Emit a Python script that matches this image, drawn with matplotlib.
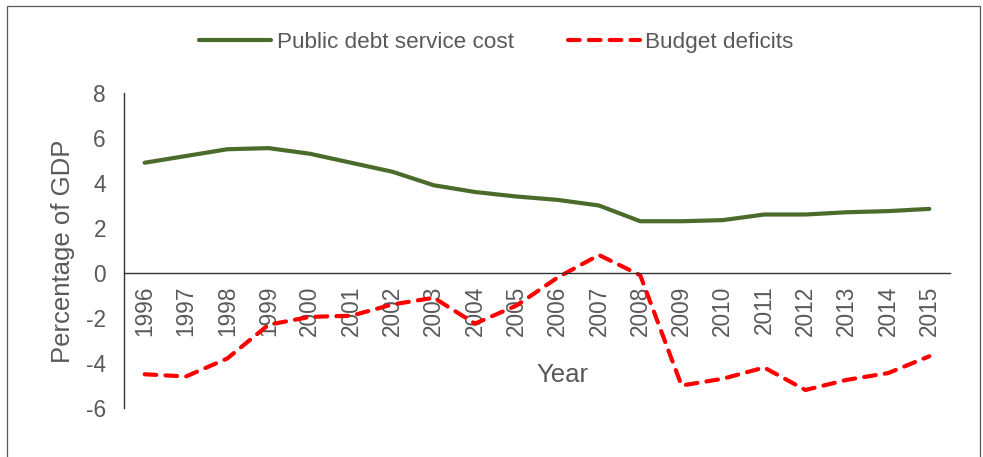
import matplotlib
matplotlib.use("Agg")
import matplotlib.pyplot as plt
from matplotlib.patches import Rectangle

plt.rcParams['font.family'] = ['Liberation Sans', 'DejaVu Sans']
plt.rcParams['axes.unicode_minus'] = False

years = [str(y) for y in range(1996, 2016)]
debt_service = [4.9, 5.2, 5.5, 5.55, 5.3, 4.9, 4.5, 3.9, 3.6, 3.4,
                3.25, 3.0, 2.3, 2.3, 2.35, 2.6, 2.6, 2.7, 2.75, 2.85]
deficits = [-4.5, -4.6, -3.8, -2.3, -1.95, -1.9, -1.4, -1.1, -2.25, -1.45,
            -0.2, 0.8, -0.1, -5.0, -4.7, -4.2, -5.2, -4.75, -4.45, -3.7]
yticks = list(range(-6, 10, 2))

grey = '#595959'

fig = plt.figure(figsize=(9.83, 4.57), dpi=100)
ax = fig.add_axes([124 / 983, 1 - 408 / 457, 826 / 983, 315 / 457])

x = range(len(years))
ax.plot(x, debt_service, color='#4b6b2b', lw=3, solid_capstyle='round',
        label='Public debt service cost')
ax.plot(x, deficits, color='#ff0000', lw=3, dashes=(2.8, 2.2),
        dash_capstyle='round', label='Budget deficits')

ax.set_xlim(-0.5, len(years) - 0.5)
ax.set_ylim(-6, 8)
ax.set_yticks(yticks)
ax.set_xticks(list(x))

ax.spines['top'].set_visible(False)
ax.spines['right'].set_visible(False)
ax.spines['bottom'].set_position(('data', 0))
for s in ('left', 'bottom'):
    ax.spines[s].set_color('#333333')
    ax.spines[s].set_linewidth(1.0)

ax.tick_params(axis='both', length=0, labelsize=16.3, labelcolor=grey)
ax.tick_params(axis='x', pad=9, labelrotation=90)
ax.tick_params(axis='y', pad=13)
ax.set_xticklabels(years)
for lbl in ax.get_xticklabels():
    lbl.set_va('top')
    lbl.set_ha('center')

ax.set_xlabel('Year', fontsize=18.5, color=grey)
ax.xaxis.set_label_coords(0.531, 0.105)
ax.xaxis.label.set_va('center')
ax.set_ylabel('Percentage of GDP', fontsize=18.5, color=grey)
ax.yaxis.set_label_coords(-0.074, 0.498)
ax.yaxis.label.set_va('center')

fig.legend(loc='center', bbox_to_anchor=(0.505, 0.908), ncol=2,
           frameon=False, fontsize=16.2, handlelength=3.2,
           handletextpad=0.25, columnspacing=2.4, labelcolor=grey)

fig.patches.append(Rectangle((7 / 983, -0.02), 973 / 983, 1.02 - 6 / 457,
                             transform=fig.transFigure, fill=False,
                             edgecolor='#595959', lw=0.9))

fig.savefig('out.png', dpi=100)
